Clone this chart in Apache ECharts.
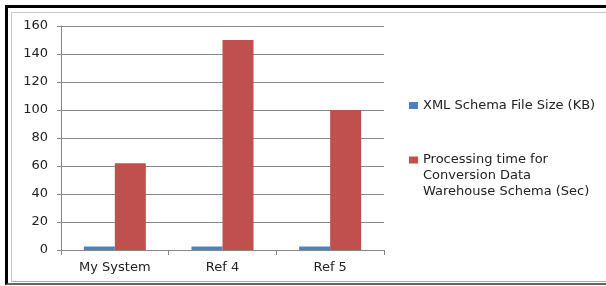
<!DOCTYPE html>
<html>
<head>
<meta charset="utf-8">
<script src="https://cdn.jsdelivr.net/npm/echarts@6/dist/echarts.min.js"></script>
<style>
  html, body { margin: 0; padding: 0; background: #fff; overflow: hidden; }
  #frame {
    position: absolute; left: 5px; top: 5px; width: 640px; height: 280px;
    border-left: 3px solid #000; border-top: 3px solid #000;
    border-bottom: 2px solid #666; box-sizing: border-box;
  }
  #inner {
    position: absolute; left: 11px; top: 12px; width: 640px; height: 270px;
    border-left: 1px solid #c8c8c8; border-top: 1px solid #c8c8c8;
    border-bottom: 1px solid #aaa; box-sizing: border-box;
  }
  #chart_con { position: absolute; left: 0; top: 0; width: 606px; height: 286px; }
</style>
</head>
<body>
<div id="frame"></div>
<div id="inner"></div>
<div id="chart_con"></div>
<script>
// data
const categories = ['My System', 'Ref 4', 'Ref 5'];
const fileSizeName = 'XML Schema File Size (KB)';
const procTimeName = 'Processing time for\nConversion Data\nWarehouse Schema (Sec)';
const fileSizeKB = [2.5, 2.5, 2.5];
const procTimeSec = [62, 150, 100];

const font = 'DejaVu Sans';

let option = {
    animation: false,
    textStyle: { fontFamily: font },
    color: ['#4f81bd', '#c0504d'],
    grid: { left: 61, top: 26, right: 222, bottom: 36 },
    legend: [
        {
            data: [fileSizeName],
            left: 404, top: 94,
            itemWidth: 9, itemHeight: 7, itemGap: 0,
            icon: 'rect',
            textStyle: { fontSize: 13, color: '#222', fontFamily: font }
        },
        {
            data: [procTimeName],
            left: 404, top: 115,
            itemWidth: 9, itemHeight: 7, itemGap: 0,
            icon: 'rect',
            // two blank lines in front keep the marker level with the first line
            formatter: function (name) { return '\n\n' + name; },
            textStyle: { fontSize: 13, lineHeight: 16, color: '#222', fontFamily: font }
        }
    ],
    xAxis: {
        type: 'category',
        data: categories,
        axisLine: { lineStyle: { color: '#868686' } },
        axisTick: { show: true, alignWithLabel: false, length: 5, lineStyle: { color: '#868686' } },
        axisLabel: { color: '#222', fontSize: 13, margin: 11 }
    },
    yAxis: {
        type: 'value',
        min: 0, max: 160, interval: 20,
        axisLine: { show: true, lineStyle: { color: '#868686' } },
        axisTick: { show: true, length: 4, lineStyle: { color: '#868686' } },
        axisLabel: { color: '#222', fontSize: 13, margin: 13 },
        splitLine: { lineStyle: { color: '#868686' } }
    },
    series: [
        {
            name: fileSizeName,
            type: 'bar',
            data: fileSizeKB,
            barWidth: 31,
            barGap: '0%'
        },
        {
            name: procTimeName,
            type: 'bar',
            data: procTimeSec,
            barWidth: 31,
            barGap: '0%'
        }
    ]
};
const chart = echarts.init(document.getElementById('chart_con'));
chart.setOption(option);
</script>
</body>
</html>
